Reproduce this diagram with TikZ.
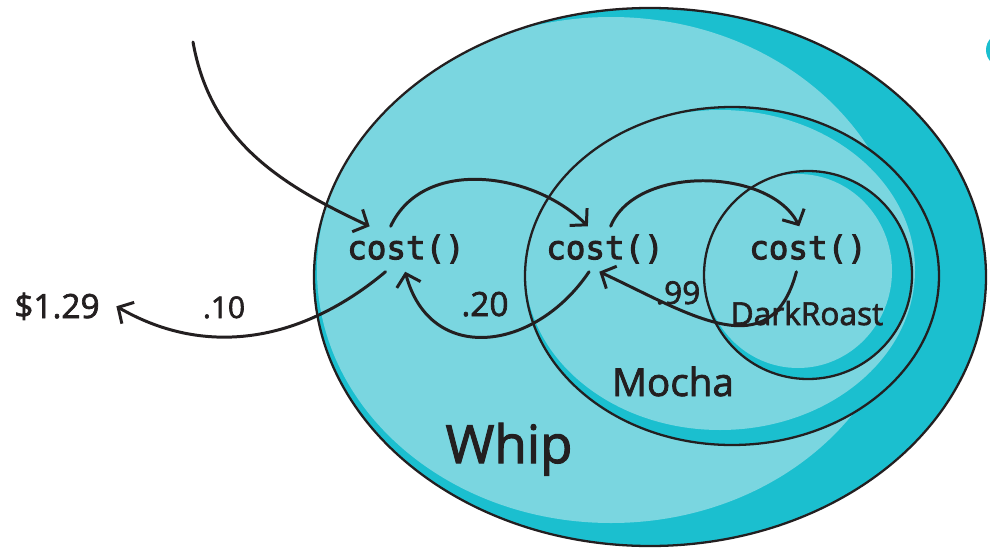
\documentclass[tikz,border=0pt]{standalone}
\usepackage{fontspec}
\setmainfont{Open Sans}[FakeBold=2]
\newfontfamily\codefont{DejaVu Sans Mono}[FakeBold=3]
\usetikzlibrary{arrows.meta, positioning}

\definecolor{cupLight}{HTML}{7AD6E0}
\definecolor{cupDark}{HTML}{1BBFCF}
\definecolor{ink}{HTML}{231F20}

\begin{document}
\begin{tikzpicture}[
    x=0.2mm, y=0.2mm,
    every node/.style={text=ink},
    costnode/.style={font=\codefont\fontsize{18.5}{20}\selectfont, inner sep=4.5pt},
    tag/.style={font=\fontsize{19}{22}\selectfont, anchor=base},
    ring/.style={draw=ink, line width=1.3pt},
    arrow/.style={-{Straight Barb[length=6.5pt, width=14pt, line width=1.7pt]}, line width=1.7pt, draw=ink, line cap=round}
]

\useasboundingbox (0,0) rectangle (990,550);

% ============ WHIP (outer cup) ============
\fill[cupDark] (650,273) ellipse [x radius=336, y radius=269];
\begin{scope}
    \clip (650,273) ellipse [x radius=336, y radius=269];
    \fill[cupLight] (611,280) ellipse [x radius=294, y radius=253];
\end{scope}
\draw[ring] (650,273) ellipse [x radius=336, y radius=269];

% ============ MOCHA ============
\fill[cupDark] (732,274) ellipse [x radius=207, y radius=169];
\begin{scope}
    \clip (732,274) ellipse [x radius=207, y radius=169];
    \fill[cupLight] (720,280) ellipse [x radius=195, y radius=160];
\end{scope}
\draw[ring] (732,274) ellipse [x radius=207, y radius=169];

% ============ DARKROAST ============
\fill[cupDark] (808,275) circle [radius=104];
\begin{scope}
    \clip (808,275) circle [radius=104];
    \fill[cupLight] (798,279) ellipse [x radius=94, y radius=97];
\end{scope}
\draw[ring] (808,275) circle [radius=104];

% piece of a cup cut off at the right edge
\begin{scope}
    \clip (0,0) rectangle (990,550);
    \fill[cupDark] (1003,500) circle [radius=17];
\end{scope}

% ============ TEXT ============
\node[costnode] (c1) at (406,301) {cost()};
\node[costnode] (c2) at (605,301) {cost()};
\node[costnode] (c3) at (808,301) {cost()};

\node[tag] (price) at (57,232) {\$1.29};
\node[tag, font=\fontsize{17}{20}\selectfont] (t10) at (224,232) {.10};
\node[tag] (t20) at (485,234) {.20};
\node[tag, font=\fontsize{18}{20}\selectfont] (t99) at (678,246) {.99};
\node[tag, font=\fontsize{18}{20}\selectfont] (roast) at (807,225) {DarkRoast};
\node[tag, font=\fontsize{22}{24}\selectfont] (mocha) at (673,154) {Mocha};
\node[tag, font=\fontsize{30}{32}\selectfont] (whip) at (509,87) {Whip};

% ============ ARROWS ============
\coordinate (src) at (193,508);
\draw[arrow] (src) to[out=-80, in=155] (c1.148);

% calls going in
\draw[arrow] (c1.124) to[out=65, in=135] (c2.127);
\draw[arrow] (c2.76) to[out=68, in=117, looseness=0.9] (c3.111);

% costs coming back
\draw[arrow] (c3.243) to[out=255, in=-25, looseness=1.3] (c2.256);
\draw[arrow] (c2.235) to[out=236, in=-75, looseness=1.35] (c1.268);
\draw[arrow] (c1.228) to[out=220, in=-30] ([xshift=6pt]price.east);

\end{tikzpicture}
\end{document}
